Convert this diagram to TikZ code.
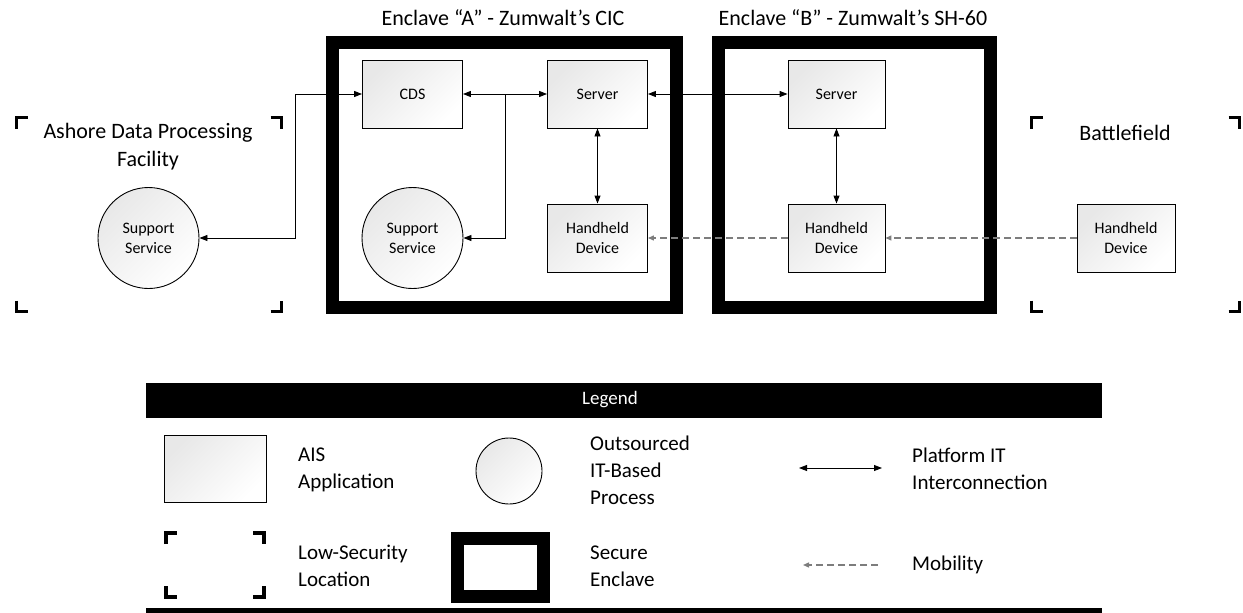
\documentclass[tikz,border=0pt]{standalone}
\usepackage{fontspec}
\setmainfont{Carlito}
\usepackage{tikz}
\usetikzlibrary{
    arrows.meta,
    positioning,
    calc,
    shapes.geometric
}
\definecolor{boxshade}{RGB}{232, 232, 232}
\definecolor{mobgray}{RGB}{125, 125, 125}
% four corner marks round a (blank) location node
\newcommand{\lowcorners}[1]{%
    \draw[corner] ([yshift=-11pt]#1.north west) -- (#1.north west) -- ([xshift=11pt]#1.north west);
    \draw[corner] ([xshift=-11pt]#1.north east) -- (#1.north east) -- ([yshift=-11pt]#1.north east);
    \draw[corner] ([yshift=11pt]#1.south west) -- (#1.south west) -- ([xshift=11pt]#1.south west);
    \draw[corner] ([xshift=-11pt]#1.south east) -- (#1.south east) -- ([yshift=11pt]#1.south east);
}

\begin{document}
\begin{tikzpicture}[
        x=1pt, y=-1pt,
        >={Triangle[length=8pt, width=6pt]},
        app/.style={draw, line width=0.9pt, top color=boxshade, bottom color=white, shading angle=45,
            minimum width=100pt, minimum height=68pt, inner sep=0pt, align=center, font=\fontsize{16}{20}\selectfont},
        proc/.style={app, circle, minimum size=101pt},
        enclave/.style={draw, line width=13pt, inner sep=0pt, outer sep=0pt},
        lowsec/.style={inner sep=0pt, outer sep=0pt},
        corner/.style={line width=3.8pt, line join=miter},
        title/.style={font=\fontsize{22}{28}\selectfont, align=center, inner sep=0pt},
        legtext/.style={font=\fontsize{21}{27}\selectfont, align=left, anchor=west, inner sep=0pt},
        bar/.style={fill=black, inner sep=0pt, minimum width=956pt, minimum height=35pt},
        link/.style={<->, line width=0.9pt},
        mobile/.style={-{Triangle[length=6pt, width=5pt]}, draw=mobgray, line width=1.3pt, dash pattern=on 7pt off 4pt}
    ]
        \useasboundingbox (0,0) rectangle (1243,613);

        % Secure enclaves
        \node[enclave, minimum width=344pt, minimum height=265.5pt] (encA) at (504,174.75) {};
        \node[enclave, minimum width=272pt, minimum height=265.5pt] (encB) at (854,174.75) {};
        \node[title] (encAt) at (503,18) {Enclave “A” - Zumwalt’s CIC};
        \node[title] (encBt) at (853,18) {Enclave “B” - Zumwalt’s SH-60};

        % Low-security locations
        \node[lowsec, minimum width=265pt, minimum height=194pt] (ashore) at (149,214.5) {};
        \node[lowsec, minimum width=208pt, minimum height=194pt] (field) at (1135.5,214.5) {};
        \lowcorners{ashore}
        \lowcorners{field}
        \node[title] (ashoret) at (148,147) {Ashore Data Processing\\Facility};
        \node[title] (fieldt) at (1125,133) {Battlefield};

        % Applications and processes
        \node[proc] (supL) at (148.5,238) {Support\\Service};
        \node[app] (cds) at (412.5,94) {CDS};
        \node[app] (srvA) at (597.5,94) {Server};
        \node[proc] (supA) at (412.5,238) {Support\\Service};
        \node[app] (hhA) at (597.5,238) {Handheld\\Device};
        \node[app, minimum width=97pt] (srvB) at (836.5,94) {Server};
        \node[app, minimum width=97pt] (hhB) at (836.5,238) {Handheld\\Device};
        \node[app, minimum width=98pt] (hhC) at (1126,238) {Handheld\\Device};

        % Connections
        \coordinate (bendL) at (295,94);
        \coordinate (jA) at (505,94);
        \draw[link] (cds.west) -- (bendL) |- (supL);
        \draw[link] (cds) -- (srvA);
        \draw[->, line width=0.9pt] (jA) |- (supA);
        \draw[link] (srvA) -- (srvB);
        \draw[link] (srvA) -- (hhA);
        \draw[link] (srvB) -- (hhB);
        \draw[mobile] (hhC) -- (hhB);
        \draw[mobile] (hhB) -- (hhA);

        % Legend
        \node[bar] (legbar) at (624,400.5) {};
        \node[font=\fontsize{19}{24}\selectfont, text=white, inner sep=0pt] (legt) at (610,400) {Legend};
        \node[bar] (legfoot) at (624,625) {};

        \node[app, minimum width=102pt, minimum height=67pt] (legapp) at (215,468.5) {};
        \node[legtext] (legappt) at (298,470) {AIS\\Application};
        \node[proc, minimum size=66pt] (legproc) at (509,471) {};
        \node[legtext] (legproct) at (590,470) {Outsourced\\IT-Based\\Process};
        \coordinate (pitL) at (799,468);
        \coordinate (pitR) at (882,468);
        \draw[link] (pitL) -- (pitR);
        \node[legtext] (legpitt) at (912,469) {Platform IT\\Interconnection};

        \node[lowsec, minimum width=98pt, minimum height=64pt] (leglow) at (215,565) {};
        \lowcorners{leglow}
        \node[legtext] (leglowt) at (298,566) {Low-Security\\Location};
        \node[enclave, minimum width=86pt, minimum height=58pt] (legenc) at (500,567) {};
        \node[legtext] (legenct) at (590,566) {Secure\\Enclave};
        \coordinate (mobR) at (878,565);
        \coordinate (mobL) at (803,565);
        \draw[mobile] (mobR) -- (mobL);
        \node[legtext] (legmobt) at (912,565) {Mobility};
    \end{tikzpicture}
\end{document}
